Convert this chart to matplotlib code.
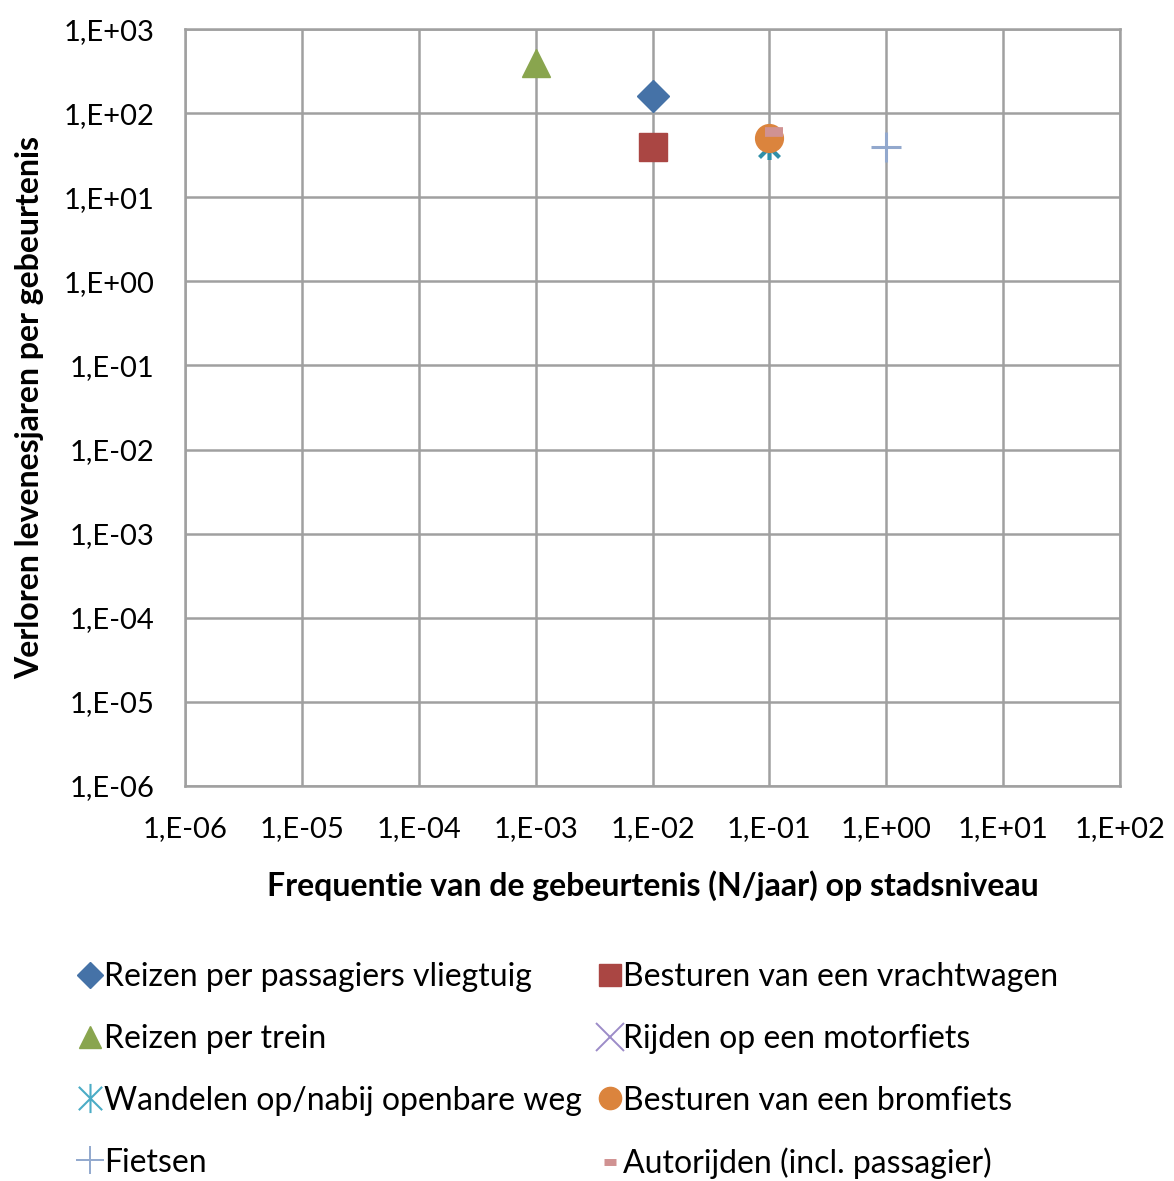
import math
import matplotlib
matplotlib.use("Agg")
import matplotlib.pyplot as plt
from matplotlib.path import Path
from matplotlib.ticker import FuncFormatter, LogLocator, NullLocator

plt.rcParams['font.family'] = ['Lato', 'DejaVu Sans']

# Activities: frequency (N/year) and lost life years per event (series order)
labels = [
    "Reizen per passagiers vliegtuig",
    "Besturen van een vrachtwagen",
    "Reizen per trein",
    "Rijden op een motorfiets",
    "Wandelen op/nabij openbare weg",
    "Besturen van een bromfiets",
    "Fietsen",
    "Autorijden (incl. passagier)",
]
freq = [1e-2, 1e-2, 1e-3, 1e-1, 1e-1, 1e-1, 1e0, 1.1e-1]
lost_years = [160, 40, 400, 50, 40, 50, 40, 60]

# star symbol: a cross with a vertical bar through it
star = Path([(0, -1), (0, 1), (-0.8, -0.8), (0.8, 0.8), (-0.8, 0.8), (0.8, -0.8)],
            [Path.MOVETO, Path.LINETO, Path.MOVETO, Path.LINETO, Path.MOVETO, Path.LINETO])

markers = ["D", "s", "^", "x", star, "o", "+", "_"]
sizes = [16, 20, 20, 12, 18, 20, 22, 13]
edge_w = [1, 1, 1, 2, 3, 1, 2.2, 7]
colors = ["#4572A7", "#AA4643", "#89A54E", "#80699B",
          "#2F8FA8", "#DB843D", "#92A8CD", "#D09292"]

fig = plt.figure(figsize=(11.74, 11.81), dpi=100)
ax = fig.add_axes([0.1576, 0.3345, 0.7964, 0.6409])

handles = []
for i in range(len(labels)):
    h, = ax.plot([freq[i]], [lost_years[i]], linestyle="none", marker=markers[i],
                 markersize=sizes[i], color=colors[i], markerfacecolor=colors[i],
                 markeredgecolor=colors[i], markeredgewidth=edge_w[i],
                 label=labels[i], zorder=3 + i)
    handles.append(h)

ax.set_xscale("log")
ax.set_yscale("log")
ax.set_xlim(1e-6, 1e2)
ax.set_ylim(1e-6, 1e3)


def sci_fmt(v, pos):
    e = int(round(math.log10(v)))
    sign = "+" if e >= 0 else "-"
    return f"1,E{sign}{abs(e):02d}"


ax.xaxis.set_major_locator(LogLocator(base=10, numticks=20))
ax.yaxis.set_major_locator(LogLocator(base=10, numticks=20))
ax.xaxis.set_minor_locator(NullLocator())
ax.yaxis.set_minor_locator(NullLocator())
ax.xaxis.set_major_formatter(FuncFormatter(sci_fmt))
ax.yaxis.set_major_formatter(FuncFormatter(sci_fmt))
ax.tick_params(axis="x", length=0, labelsize=21, pad=22)
ax.tick_params(axis="y", length=0, labelsize=21, pad=22)
ax.grid(True, color="#a0a0a0", linewidth=1.8)
ax.set_axisbelow(True)
for s in ax.spines.values():
    s.set_color("#a0a0a0")
    s.set_linewidth(1.8)

ax.set_xlabel("Frequentie van de gebeurtenis (N/jaar) op stadsniveau",
              fontsize=23, fontweight="bold", labelpad=20)
ax.set_ylabel("Verloren levenesjaren per gebeurtenis",
              fontsize=23, fontweight="bold", labelpad=14)

# two-column legend, filled column by column
leg_order = [0, 2, 4, 6, 1, 3, 5, 7]
leg = fig.legend([handles[i] for i in leg_order], [labels[i] for i in leg_order],
                 ncol=2, loc="upper left", bbox_to_anchor=(0.045, 0.21),
                 frameon=False, fontsize=23, handlelength=0.55,
                 handletextpad=0.15, columnspacing=0.6, labelspacing=1.0,
                 markerscale=0.8)

# thin-line symbols in the legend keys
line_keys = {3: ("#9C8CC8", 20, 1.4), 4: ("#4BACC6", 21, 1.5), 6: ("#92A8CD", 20, 1.4)}
for h, i in zip(leg.legend_handles, leg_order):
    if i in line_keys:
        c, ms, mw = line_keys[i]
        h.set_color(c)
        h.set_markeredgecolor(c)
        h.set_markersize(ms)
        h.set_markeredgewidth(mw)
    if i == 7:
        h.set_markersize(9)
        h.set_markeredgewidth(5)

fig.savefig("out.png", dpi=100)
